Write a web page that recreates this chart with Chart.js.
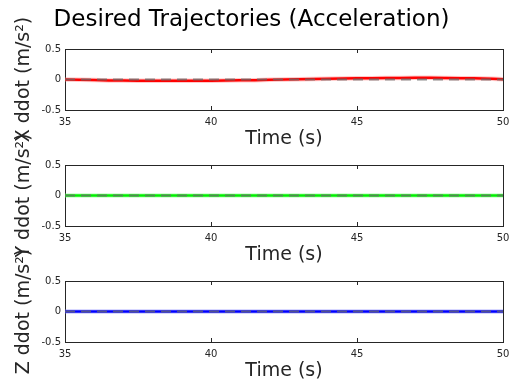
<!DOCTYPE html>
<html>
<head>
<meta charset="utf-8">
<script src="https://cdn.jsdelivr.net/npm/chart.js@4.4.1/dist/chart.umd.min.js"></script>
<style>
body { margin: 0; background: #fff; }
canvas { position: absolute; left: 0; top: 0; }
</style>
</head>
<body>
<canvas id="Graphic_x" width="509" height="390"></canvas>
<canvas id="Graphic_y" width="509" height="390"></canvas>
<canvas id="Graphic_z" width="509" height="390"></canvas>
<script>
// time axis (s)
var timeS = [35, 36, 37, 38, 39, 40, 41, 42, 43, 44, 45, 46, 47, 48, 49, 50];
// accelerations (m/s^2)
var xDdot = [0, -0.01, -0.018, -0.022, -0.022, -0.02, -0.014, -0.006, 0.004, 0.012, 0.019, 0.024, 0.027, 0.026, 0.02, 0.006];
var yDdot = [0, 0, 0, 0, 0, 0, 0, 0, 0, 0, 0, 0, 0, 0, 0, 0];
var zDdot = [0, 0, 0, 0, 0, 0, 0, 0, 0, 0, 0, 0, 0, 0, 0, 0];
var refDdot = [0, 0, 0, 0, 0, 0, 0, 0, 0, 0, 0, 0, 0, 0, 0, 0];
var yTicks = [-0.5, 0, 0.5];
var xTicks = [35, 40, 45, 50];
var mainTitle = "Desired Trajectories (Acceleration)";
var xLabel = "Time (s)";
var yLabels = ["X ddot (m/s²)", "Y ddot (m/s²)", "Z ddot (m/s²)"];

var axisColor = "#262626";
var fontName = "'DejaVu Sans', sans-serif";

function pts(vals) {
   return timeS.map(function (t, i) { return { x: t, y: vals[i] }; });
}

function noPad(s) {
   s.paddingLeft = 0; s.paddingRight = 0; s.paddingTop = 0; s.paddingBottom = 0;
}

function makeChart(id, vals, core, halo, yLabel, padTop, padBottom, withTitle) {
   var ctx = document.getElementById(id).getContext("2d");
   return new Chart(ctx, {
      type: 'line',
      data: {
         datasets: [{
            data: pts(refDdot),
            borderColor: "rgba(105, 105, 105, 0.75)",
            borderWidth: 2,
            borderDash: [10, 6],
            pointRadius: 0
         }, {
            data: pts(vals),
            borderColor: core,
            borderWidth: 2.5,
            tension: 0.4,
            pointRadius: 0
         }, {
            data: pts(vals),
            borderColor: halo,
            borderWidth: 4.5,
            tension: 0.4,
            pointRadius: 0
         }]
      },
      options: {
         responsive: false,
         animation: false,
         layout: { padding: { left: 0, right: 6, top: padTop, bottom: padBottom } },
         plugins: {
            legend: { display: false },
            tooltip: { enabled: false },
            title: {
               display: withTitle,
               text: mainTitle,
               color: "#000",
               font: { family: fontName, size: 23, weight: 'normal' },
               padding: { top: 6.7, bottom: 14.7 }
            }
         },
         scales: {
            x: {
               type: 'linear',
               position: 'bottom',
               min: 35,
               max: 50,
               afterBuildTicks: function (s) { s.ticks = xTicks.map(function (v) { return { value: v }; }); },
               afterFit: function (s) { s.height = 40; noPad(s); },
               ticks: { color: axisColor, font: { family: fontName, size: 10 }, padding: 10, maxRotation: 0 },
               grid: { drawOnChartArea: false, tickLength: -4, color: axisColor },
               border: { color: axisColor, width: 1 },
               title: { display: true, text: xLabel, color: axisColor, font: { family: fontName, size: 19 }, padding: 0 }
            },
            xTop: {
               type: 'linear',
               position: 'top',
               min: 35,
               max: 50,
               afterBuildTicks: function (s) { s.ticks = xTicks.map(function (v) { return { value: v }; }); },
               afterFit: function (s) { s.height = 0; noPad(s); },
               ticks: { display: false },
               grid: { drawOnChartArea: false, tickLength: -4, color: axisColor },
               border: { color: axisColor, width: 1 }
            },
            y: {
               position: 'left',
               min: -0.5,
               max: 0.5,
               afterBuildTicks: function (s) { s.ticks = yTicks.map(function (v) { return { value: v }; }); },
               afterFit: function (s) { s.width = 65; noPad(s); },
               ticks: { color: axisColor, font: { family: fontName, size: 10 }, padding: 8 },
               grid: { drawOnChartArea: false, tickLength: -4, color: axisColor },
               border: { color: axisColor, width: 1 },
               title: { display: true, text: yLabel, color: axisColor, font: { family: fontName, size: 19 }, padding: { top: 12.6, bottom: 0 } }
            },
            yRight: {
               position: 'right',
               min: -0.5,
               max: 0.5,
               afterBuildTicks: function (s) { s.ticks = yTicks.map(function (v) { return { value: v }; }); },
               afterFit: function (s) { s.width = 0; noPad(s); },
               ticks: { display: false },
               grid: { drawOnChartArea: false, tickLength: -4, color: axisColor },
               border: { color: axisColor, width: 1 }
            }
         }
      }
   });
}

makeChart("Graphic_x", xDdot, "#ff0000", "rgba(255, 120, 120, 0.4)", yLabels[0], 0, 240, true);
makeChart("Graphic_y", yDdot, "#00f000", "rgba(120, 255, 120, 0.4)", yLabels[1], 165, 124, false);
makeChart("Graphic_z", zDdot, "#0000ff", "rgba(120, 120, 255, 0.4)", yLabels[2], 281, 8, false);
</script>
</body>
</html>
